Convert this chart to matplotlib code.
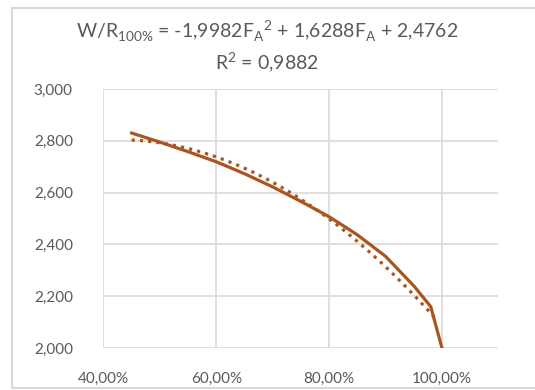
import numpy as np
import matplotlib
matplotlib.use("Agg")
import matplotlib.pyplot as plt
from matplotlib.ticker import FuncFormatter
from matplotlib.patches import Rectangle

plt.rcParams['font.family'] = ['Lato', 'DejaVu Sans']

# data
fa = [0.45, 0.50, 0.55, 0.60, 0.65, 0.70, 0.75, 0.80, 0.85, 0.90, 0.95, 0.98, 1.00]
wr = [2.830, 2.795, 2.758, 2.719, 2.673, 2.622, 2.566, 2.507, 2.437, 2.354, 2.240, 2.160, 2.000]

x_ticks = [0.4, 0.6, 0.8, 1.0]
y_ticks = [2.0, 2.2, 2.4, 2.6, 2.8, 3.0]

line_col = '#a9551f'
text_col = '#595959'

# polynomial trendline (order 2) fitted to the data
coef = np.polyfit(fa, wr, 2)
xt = np.linspace(min(fa), 0.99, 200)
yt = np.polyval(coef, xt)

fig = plt.figure(figsize=(5.35, 3.9), dpi=100)
fig.patches.append(Rectangle((12 / 535, 0.005), 1.2, 0.975, transform=fig.transFigure,
                             fill=False, edgecolor='#d9d9d9', lw=1.5))
ax = fig.add_axes([103.4 / 535, 1 - 348 / 390, 395 / 535, 259 / 390])

ax.plot(fa, wr, color=line_col, lw=2.3, solid_joinstyle='round', zorder=3)
ax.plot(xt, yt, color=line_col, lw=2.3, linestyle=(0, (1, 1.6)), zorder=2)

ax.set_xlim(0.4, 1.1)
ax.set_ylim(2.0, 3.0)
ax.set_xticks(x_ticks)
ax.set_yticks(y_ticks)
ax.xaxis.set_major_formatter(FuncFormatter(lambda v, p: f"{v*100:.2f}%".replace('.', ',')))
ax.yaxis.set_major_formatter(FuncFormatter(lambda v, p: f"{v:.3f}".replace('.', ',')))
ax.tick_params(length=0, labelsize=11, colors=text_col)
ax.tick_params(axis='y', pad=22)
ax.tick_params(axis='x', pad=17)
ax.grid(True, color='#d9d9d9', lw=1.2)
ax.set_axisbelow(True)
for s in ax.spines.values():
    s.set_visible(False)

fig.text(0.5, 1 - 31 / 390,
         r"W/R$_{\mathregular{100\%}}$ = -1,9982F$_{\mathregular{A}}$$^{\mathregular{2}}$ + 1,6288F$_{\mathregular{A}}$ + 2,4762",
         ha='center', va='center', fontsize=14, color=text_col)
fig.text(0.5, 1 - 63 / 390, r"R$^{\mathregular{2}}$ = 0,9882",
         ha='center', va='center', fontsize=14, color=text_col)

fig.savefig('out.png', dpi=100)
